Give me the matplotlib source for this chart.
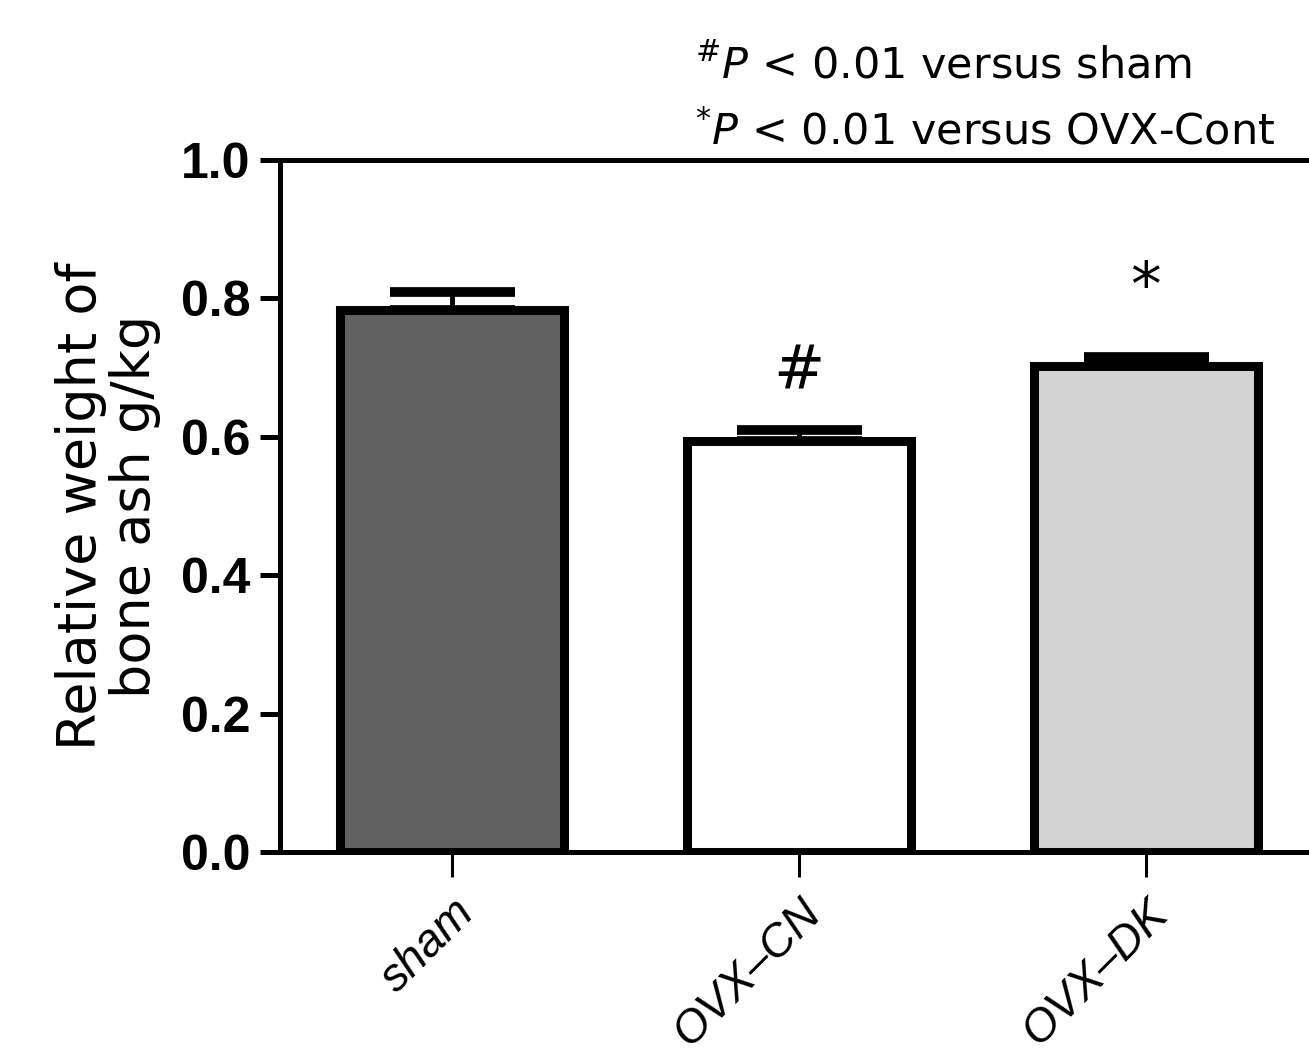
import matplotlib
matplotlib.use("Agg")
import matplotlib.pyplot as plt
import numpy as np

plt.rcParams['font.family'] = ['Liberation Sans', 'DejaVu Sans']
plt.rcParams['mathtext.fontset'] = 'dejavusans'

# data
groups = ['sham', 'OVX\u2013CN', 'OVX\u2013DK']
means = [0.784, 0.594, 0.702]
errs = [0.025, 0.016, 0.013]
colors = ['#616161', '#ffffff', '#d3d3d3']
marks = ['', '#', '*']
mark_y = [0.0, 0.694, 0.815]

fig = plt.figure(figsize=(13.09, 10.55), dpi=100)
ax = fig.add_axes([0.2139, 0.1924, 0.7861, 0.6559])

x = np.arange(len(groups))
# only the upper half of the error bar is drawn
ax.errorbar(x, means, yerr=[np.zeros(len(errs)), errs], fmt='none', ecolor='black',
            elinewidth=3.5, capsize=45, capthick=7, zorder=1)
ax.bar(x, means, width=0.645, color=colors, edgecolor='black', linewidth=6.5, zorder=2)

for xi, m, my in zip(x, marks, mark_y):
    if m:
        ax.text(xi, my, m, ha='center', va='center', fontsize=44, family='DejaVu Sans')

ax.set_xlim(-0.496, 2.47)
ax.set_ylim(0, 1.0)
ax.set_yticks([0.0, 0.2, 0.4, 0.6, 0.8, 1.0])
ax.set_yticklabels(['0.0', '0.2', '0.4', '0.6', '0.8', '1.0'], fontsize=36, fontweight='bold')
ax.set_xticks(x)
ax.set_xticklabels(groups, fontsize=33, style='italic', rotation=45, ha='right',
                   rotation_mode='anchor')

ax.tick_params(axis='y', length=14.4, width=3.6, pad=7)
ax.tick_params(axis='x', length=18, width=2.2, pad=10)

for s in ['left', 'bottom', 'top']:
    ax.spines[s].set_linewidth(3.6)
ax.spines['right'].set_visible(False)

ax.set_ylabel('Relative weight of\nbone ash g/kg', fontsize=39, linespacing=1.05,
              labelpad=14, family='DejaVu Sans')

fig.text(0.531, 0.926, r'$^{\#}\mathit{P}$ < 0.01 versus sham', fontsize=31,
         ha='left', va='baseline', family='DejaVu Sans')
fig.text(0.531, 0.863, r'$^{*}\mathit{P}$ < 0.01 versus OVX-Cont', fontsize=31,
         ha='left', va='baseline', family='DejaVu Sans')

fig.savefig('out.png', dpi=100)
